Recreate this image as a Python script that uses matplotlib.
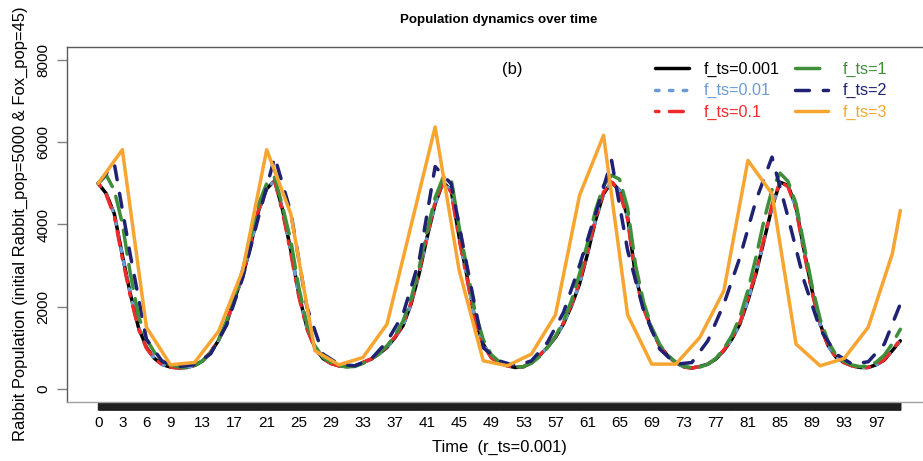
import numpy as np
import matplotlib.pyplot as plt

plt.rcParams['font.family'] = ['Liberation Sans', 'DejaVu Sans']

# time points of each run (coarse runs only keep every 2nd / 3rd step)
time_fine = list(range(0, 101))
time_ts2 = list(range(0, 101, 2))
time_ts3 = list(range(0, 100, 3)) + [100]

# rabbit population
rabbit_ts_0001 = [5000, 4750, 4260, 3250, 2310, 1500, 1010, 740, 590, 530,
                  510, 520, 570, 680, 880, 1180, 1600, 2200, 2730, 3490,
                  4340, 4870, 5070, 4340, 3370, 2310, 1500, 1010, 740, 620,
                  560, 540, 560, 640, 720, 850, 1010, 1250, 1540, 2065,
                  2800, 3690, 4500, 5030, 4830, 3690, 2715, 1660, 1090, 765,
                  640, 560, 520, 537, 640, 805, 1010, 1250, 1580, 2020,
                  2550, 3285, 4100, 4750, 5030, 4830, 4180, 2715, 1985, 1455,
                  1050, 805, 640, 537, 505, 545, 600, 725, 930, 1210,
                  1580, 2150, 2800, 3610, 4420, 5030, 4950, 4420, 3370, 2390,
                  1580, 1050, 765, 640, 560, 520, 520, 585, 700, 930, 1170]
rabbit_ts_001 = [5000, 4740, 4250, 3240, 2300, 1500, 1010, 740, 590, 530,
                 510, 520, 570, 680, 880, 1180, 1600, 2200, 2740, 3500,
                 4350, 4880, 5070, 4330, 3360, 2300, 1500, 1010, 740, 620,
                 560, 540, 560, 640, 720, 850, 1010, 1250, 1550, 2070,
                 2810, 3700, 4510, 5030, 4820, 3680, 2700, 1650, 1090, 765,
                 640, 560, 520, 537, 640, 805, 1010, 1255, 1585, 2030,
                 2560, 3295, 4110, 4760, 5030, 4820, 4170, 2700, 1980, 1450,
                 1050, 805, 640, 537, 505, 545, 600, 725, 930, 1215,
                 1585, 2160, 2810, 3620, 4430, 5030, 4940, 4410, 3360, 2380,
                 1575, 1050, 765, 640, 560, 520, 520, 585, 700, 935, 1175]
rabbit_ts_01 = [5000, 4720, 4200, 3180, 2250, 1460, 990, 730, 585, 528,
                510, 522, 575, 690, 895, 1200, 1630, 2240, 2780, 3540,
                4380, 4900, 5060, 4280, 3300, 2250, 1460, 990, 730, 615,
                558, 540, 562, 645, 728, 860, 1025, 1270, 1575, 2100,
                2850, 3740, 4540, 5040, 4790, 3630, 2650, 1620, 1070, 755,
                635, 558, 520, 540, 645, 815, 1025, 1270, 1605, 2055,
                2590, 3330, 4150, 4790, 5040, 4790, 4120, 2660, 1950, 1430,
                1035, 795, 635, 535, 505, 548, 605, 735, 945, 1230,
                1610, 2190, 2850, 3660, 4470, 5040, 4920, 4370, 3310, 2340,
                1550, 1035, 758, 636, 558, 520, 522, 590, 710, 950, 1195]
rabbit_ts_1 = [5000, 5200, 4830, 4020, 2800, 1780, 1210, 890, 680, 580,
               537, 520, 560, 680, 880, 1200, 1650, 2250, 2900, 3700,
               4500, 5000, 5150, 4420, 3610, 2470, 1580, 1050, 765, 640,
               560, 537, 545, 620, 720, 860, 1050, 1300, 1650, 2200,
               2950, 3850, 4650, 5150, 5110, 3930, 2900, 1850, 1200, 830,
               660, 570, 530, 540, 620, 780, 1000, 1280, 1650, 2150,
               2800, 3550, 4350, 4950, 5200, 5100, 4400, 3000, 2100, 1500,
               1080, 820, 650, 550, 515, 530, 600, 740, 980, 1300,
               1750, 2400, 3200, 4100, 4850, 5250, 5050, 4500, 3500, 2500,
               1700, 1150, 820, 670, 580, 540, 560, 650, 820, 1100, 1450]
rabbit_ts_2 = [5000, 5480, 3250, 1210, 660, 540, 590, 850, 1550, 2700,
               4200, 5640, 4300, 2000, 850, 600, 560, 720, 1150, 1820,
               3120, 5410, 4990, 2960, 1000, 680, 560, 680, 1130, 1860,
               3000, 4260, 5560, 3370, 1900, 970, 600, 640, 1170, 2065,
               3200, 4585, 5640, 4180, 2630, 1455, 846, 600, 660, 1090,
               2065]
rabbit_ts_3 = [5000, 5820, 1500, 585, 642, 1400, 2880, 5820, 4260, 930,
               585, 764, 1577, 3976, 6374, 2880, 683, 561, 846, 1800,
               4707, 6171, 1800, 602, 602, 1252, 2390, 5560, 4748, 1089,
               561, 740, 1500, 3285, 4341]

labels = ["f_ts=0.001", "f_ts=0.01", "f_ts=0.1", "f_ts=1", "f_ts=2", "f_ts=3"]
x_tick_labels = [0, 3, 6, 9, 13, 17, 21, 25, 29, 33, 37, 41, 45, 49, 53,
                 57, 61, 65, 69, 73, 77, 81, 85, 89, 93, 97]
y_ticks = [0, 2000, 4000, 6000, 8000]

colours = ["black", "#6b9bd6", "#ee2a2a", "#3f8f3a", "#1f2272", "#f7a531"]
dash_list = [None, (1, 3), (1, 3, 4, 3), (7, 3), (4, 4), None]

fig = plt.figure(figsize=(9.23, 4.61), dpi=100)
ax = fig.add_axes([67 / 923, 59 / 461, 863 / 923, 355 / 461])

runs = [(time_fine, rabbit_ts_0001), (time_fine, rabbit_ts_001),
        (time_fine, rabbit_ts_01), (time_fine, rabbit_ts_1),
        (time_ts2, rabbit_ts_2), (time_ts3, rabbit_ts_3)]
for (t, r), lab, c, d in zip(runs, labels, colours, dash_list):
    line, = ax.plot(t, r, color=c, lw=2.5, label=lab,
                    solid_capstyle='round', dash_capstyle='round',
                    solid_joinstyle='round')
    if d is not None:
        line.set_dashes(d)

ax.set_xlim(-3.9, 103.7)
ax.set_ylim(-320, 8320)

ax.set_xticks(x_tick_labels)
ax.set_xticklabels([str(v) for v in x_tick_labels])
ax.set_xticks(np.arange(0, 100.001, 0.05), minor=True)
ax.tick_params(axis='x', which='both', length=6, width=1, color='#202020',
               labelsize=11, pad=4)
ax.set_yticks(y_ticks)
ax.set_yticklabels([str(v) for v in y_ticks], rotation=90, va='center')
ax.tick_params(axis='y', length=7, width=1, color='#808080', labelsize=11, pad=5)

for side in ['left', 'top']:
    ax.spines[side].set_color('#5a5a5a')
ax.spines['bottom'].set_color('#a0a0a0')
for s in ax.spines.values():
    s.set_linewidth(1)

ax.text(51.6, 7780, "(b)", ha='center', va='center', fontsize=12)

leg = ax.legend(ncol=2, frameon=False, loc='upper left',
                bbox_to_anchor=(655 / 923, 1 - 62 / 461),
                bbox_transform=fig.transFigure, borderpad=0, borderaxespad=0,
                handlelength=2.1, handletextpad=0.9, columnspacing=0.95,
                labelspacing=0.38, fontsize=11.6)
for txt, c in zip(leg.get_texts(), colours):
    txt.set_color(c)

fig.text(499 / 923, 1 - 20 / 461, "Population dynamics over time",
         ha='center', va='center', fontsize=9.6, fontweight='bold')
fig.text(499 / 923, 1 - 447 / 461, "Time  (r_ts=0.001)",
         ha='center', va='center', fontsize=11.9)
fig.text(20 / 923, 1 - 224 / 461,
         "Rabbit Population (initial Rabbit_pop=5000 & Fox_pop=45)",
         ha='center', va='center', rotation=90, fontsize=11.9)

fig.savefig("out.png", dpi=100)
